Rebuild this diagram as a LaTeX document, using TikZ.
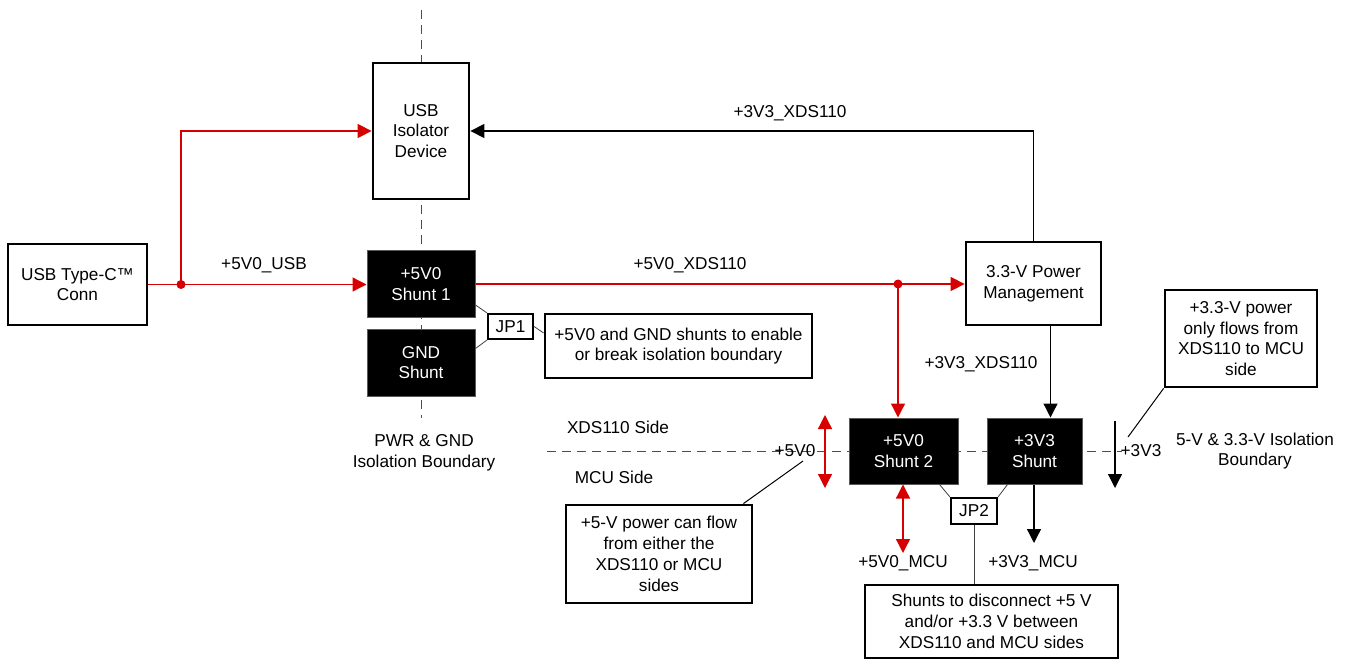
\documentclass[tikz,border=0pt]{standalone}
\usepackage{fontspec}
\setmainfont{Liberation Sans}
\usetikzlibrary{arrows.meta}
\definecolor{pwr}{RGB}{214,0,0}
\begin{document}
\begin{tikzpicture}[x=1pt,y=-1pt,
  every node/.style={font=\fontsize{17.2}{20.8}\selectfont, align=center, inner sep=0pt},
  wbox/.style={draw, line width=2.8pt, fill=white, rectangle},
  bbox/.style={draw=black!65, line width=1pt, fill=black, text=white, rectangle},
  tip/.style={-{Triangle[length=14pt,width=14pt]}},
  tips/.style={{Triangle[length=14pt,width=14pt]}-{Triangle[length=14pt,width=14pt]}},
  rline/.style={draw=pwr, line width=1.3pt},
  bline/.style={line width=1.3pt},
  thinl/.style={line width=0.8pt, draw=black!75},
  call/.style={line width=1pt},
  bnd/.style={dash pattern=on 9pt off 6pt, line width=1pt, draw=black!70},
]
\useasboundingbox (0,0) rectangle (1346,660);

% isolation boundaries
\draw[bnd] (421,10) -- (421,418);
\draw[bnd] (547,451) -- (1122,451);

% boxes
\node[wbox, minimum width=139pt, minimum height=81pt] (usbc) at (77.5,284.5) {USB Type-C™\\Conn};
\node[wbox, minimum width=96pt, minimum height=136pt] (iso) at (421,131) {USB\\Isolator\\Device};
\node[bbox, minimum width=108pt, minimum height=66pt] (shunt1) at (421,284) {+5V0\\Shunt 1};
\node[bbox, minimum width=108pt, minimum height=67pt] (gnd) at (421,362.5) {GND\\Shunt};
\node[wbox, line width=2.2pt, minimum width=45pt, minimum height=25pt] (jp1) at (510.5,326.5) {JP1};
\node[wbox, minimum width=267pt, minimum height=64pt] (note1) at (678.5,346) {+5V0 and GND shunts to enable\\or break isolation boundary};
\node[wbox, minimum width=135pt, minimum height=83pt] (pm) at (1033.5,283.5) {3.3-V Power\\Management};
\node[bbox, minimum width=109pt, minimum height=66pt] (shunt2) at (903.5,451) {+5V0\\Shunt 2};
\node[bbox, minimum width=95pt, minimum height=66pt] (sh3) at (1034.5,451) {+3V3\\Shunt};
\node[wbox, line width=2.2pt, minimum width=46pt, minimum height=26pt] (jp2) at (974,511) {JP2};
\node[wbox, minimum width=186pt, minimum height=98pt] (note2) at (659,554) {+5-V power can flow\\from either the\\XDS110 or MCU\\sides};
\node[wbox, minimum width=253pt, minimum height=73pt] (note3) at (991.5,621.5) {Shunts to disconnect +5 V\\and/or +3.3 V between\\XDS110 and MCU sides};
\node[wbox, minimum width=152pt, minimum height=97pt] (note4) at (1241,338.5) {+3.3-V power\\only flows from\\XDS110 to MCU\\side};

% text labels
\node (l1) at (264,265) {+5V0\_USB};
\node (l2) at (690,265) {+5V0\_XDS110};
\node (l3) at (790,113) {+3V3\_XDS110};
\node (l4) at (981,364) {+3V3\_XDS110};
\node (l5) at (795,451) {+5V0};
\node (l6) at (1141,451) {+3V3};
\node (l7) at (903,563) {+5V0\_MCU};
\node (l8) at (1033,563) {+3V3\_MCU};
\node (l9) at (618,427) {XDS110 Side};
\node (l10) at (614,477) {MCU Side};
\node (l11) at (424,453) {PWR \& GND\\Isolation Boundary};
\node (l12) at (1255,451) {5-V \& 3.3-V Isolation\\Boundary};

% red power connectors
\coordinate (d1) at (181,284.5);
\coordinate (d2) at (898,284);
\draw[rline, tip] (usbc.east) -- (usbc.east -| shunt1.west);
\draw[rline, tip] (d1) |- (iso.west);
\fill[pwr] (d1) circle (4.5pt);
\draw[rline, tip] (shunt1.east) -- (shunt1.east -| pm.west);
\draw[rline, tip] (d2) -- (d2 |- shunt2.north);
\fill[pwr] (d2) circle (4.5pt);
\coordinate (r1a) at (825,415);
\coordinate (r1b) at (825,488);
\draw[rline, tips] (r1a) -- (r1b);
\coordinate (r2b) at (903,553);
\draw[rline, tips] (shunt2.south -| r2b) -- (r2b);

% black connectors
\draw[bline, tip] (pm.north) |- (iso.east);
\coordinate (p3) at (1050.5,325);
\draw[bline, tip] (p3) -- (p3 |- sh3.north);
\coordinate (m3) at (1034,543);
\draw[bline, tip] (sh3.south -| m3) -- (m3);
\coordinate (v3a) at (1115,421);
\coordinate (v3b) at (1115,488);
\draw[bline, tip] (v3a) -- (v3b);

% jumper links
\draw[thinl] ([yshift=-21pt]shunt1.east) -- (jp1.north west);
\draw[thinl] ([yshift=14pt]gnd.east) -- (jp1.south west);
\draw[thinl] (jp1.east) -- ([yshift=13pt]note1.west);
\draw[thinl] ([xshift=36pt]shunt2.south) -- (jp2.north west);
\draw[thinl] ([xshift=-27pt]sh3.south) -- (jp2.north east);
\draw[thinl] (jp2.south) -- (jp2.south |- note3.north);

% callouts
\coordinate (c1) at (803,461);
\draw[call] (c1) -- ([xshift=-10pt]note2.north east);
\coordinate (c2) at (1128,437);
\draw[call] (c2) -- (note4.south west);
\end{tikzpicture}
\end{document}
